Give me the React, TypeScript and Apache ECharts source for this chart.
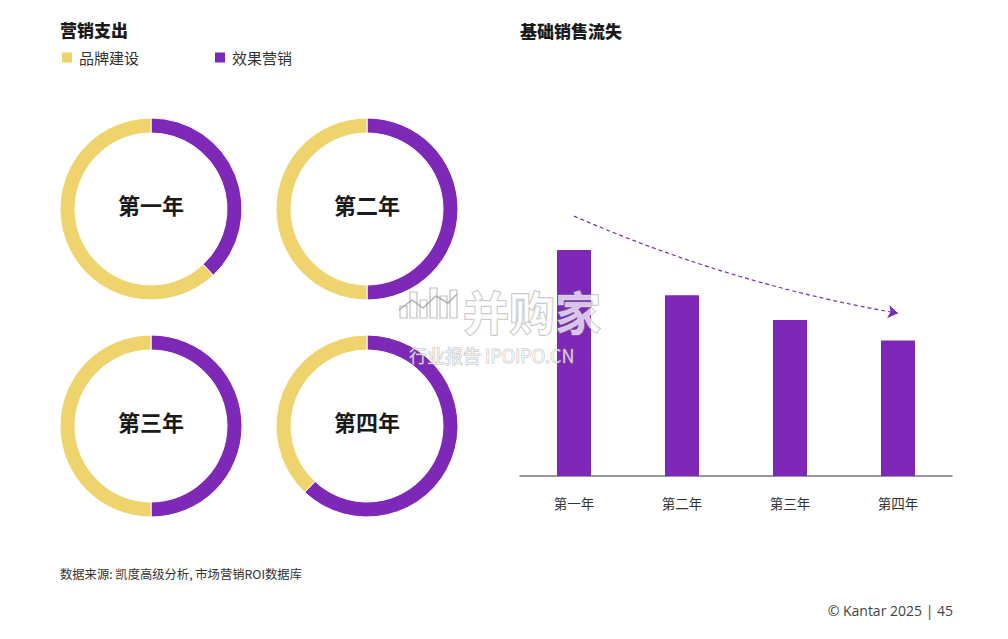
import React, { useEffect, useRef } from "react";
import * as echarts from "echarts";

const legendNames = ["品牌建设", "效果营销"];
const yearLabels = ["第一年", "第二年", "第三年", "第四年"];
const brandShare = [62, 50, 50, 38];
const performanceShare = [38, 50, 50, 62];
const baseSalesLoss = [100, 80, 69, 60];
const trendLine = [115, 72];

const YELLOW = "#EFD36C";
const PURPLE = "#7D28B6";
const CJK = '"Noto Sans CJK SC", "Noto Sans", sans-serif';
const donutCenters = [
  [151, 209],
  [367, 209],
  [151, 426],
  [367, 426],
];

export default function App() {
  const ref = useRef<HTMLDivElement>(null);
  useEffect(() => {
    if (!ref.current) return;
    const chart = echarts.init(ref.current, undefined, { renderer: "svg" });

    const pies = yearLabels.map((y, i) => ({
      type: "pie",
      name: y,
      center: donutCenters[i],
      radius: [76, 91],
      startAngle: 90,
      clockwise: true,
      silent: true,
      label: { show: false },
      labelLine: { show: false },
      itemStyle: { borderColor: "#fff", borderWidth: 1 },
      data: [
        { name: legendNames[1], value: performanceShare[i], itemStyle: { color: PURPLE } },
        { name: legendNames[0], value: brandShare[i], itemStyle: { color: YELLOW } },
      ],
    }));

    const centerTexts = yearLabels.map((y, i) => ({
      type: "text",
      x: donutCenters[i][0],
      y: donutCenters[i][1] - 5,
      style: {
        text: y,
        fill: "#1a1a1a",
        font: `bold 22px ${CJK}`,
        align: "center",
        verticalAlign: "middle",
      },
    }));

    const wmFill = "rgba(255,255,255,0.72)";
    const wmStroke = "rgba(140,140,140,0.55)";
    const iconBars = [
      [400, 12],
      [410, 26],
      [420, 18],
      [430, 30],
      [440, 22],
      [450, 28],
    ];

    chart.setOption({
      animation: false,
      backgroundColor: "#ffffff",
      legend: {
        data: legendNames,
        left: 60,
        top: 50,
        padding: 0,
        icon: "rect",
        itemWidth: 12,
        itemHeight: 12,
        itemGap: 74,
        selectedMode: false,
        textStyle: {
          fontFamily: CJK,
          fontSize: 15,
          color: "#333",
          padding: [0, 0, 0, 1],
        },
      },
      grid: { left: 520, top: 204.8, width: 432, height: 271.2 },
      xAxis: {
        type: "category",
        data: yearLabels,
        axisLine: { lineStyle: { color: "#777", width: 1.5 } },
        axisTick: { show: false },
        axisLabel: { color: "#333", fontSize: 13.5, fontFamily: CJK, margin: 20 },
      },
      yAxis: { type: "value", min: 0, max: 120, show: false },
      series: [
        ...pies,
        {
          type: "bar",
          data: baseSalesLoss,
          barWidth: 34,
          silent: true,
          itemStyle: { color: PURPLE },
        },
        {
          type: "lines",
          coordinateSystem: "cartesian2d",
          xAxisIndex: 0,
          yAxisIndex: 0,
          silent: true,
          symbol: ["none", "arrow"],
          symbolSize: 10,
          lineStyle: { color: PURPLE, width: 1.2, type: [4, 3], curveness: -0.06, opacity: 1 },
          data: [{ coords: [[0, trendLine[0]], [3, trendLine[1]]] }],
        },
      ],
      graphic: [
        {
          type: "text",
          x: 60,
          y: 29,
          style: { text: "营销支出", fill: "#1a1a1a", font: `900 17px ${CJK}`, verticalAlign: "middle" },
        },
        {
          type: "text",
          x: 520,
          y: 30,
          style: { text: "基础销售流失", fill: "#1a1a1a", font: `900 17px ${CJK}`, verticalAlign: "middle" },
        },
        ...centerTexts,
        {
          type: "text",
          x: 60,
          y: 574,
          style: {
            text: "数据来源: 凯度高级分析, 市场营销ROI数据库",
            fill: "#333",
            font: `12.3px ${CJK}`,
            verticalAlign: "middle",
          },
        },
        {
          type: "text",
          x: 953,
          y: 610,
          style: {
            text: "© Kantar 2025 | 45",
            fill: "#444",
            font: '14px "Open Sans", sans-serif',
            align: "right",
            verticalAlign: "middle",
          },
        },
        ...iconBars.map(([x, h]) => ({
          type: "rect",
          z: 100,
          silent: true,
          shape: { x, y: 318 - h, width: 7, height: h },
          style: { fill: wmFill, stroke: wmStroke, lineWidth: 1.2 },
        })),
        {
          type: "polyline",
          z: 101,
          silent: true,
          shape: { points: [[399, 310], [412, 300], [423, 308], [436, 296], [448, 303], [457, 294]] },
          style: { stroke: "rgba(150,150,150,0.7)", lineWidth: 1.5, fill: null },
        },
        {
          type: "text",
          z: 100,
          silent: true,
          x: 463,
          y: 310,
          style: {
            text: "并购家",
            fill: wmFill,
            stroke: wmStroke,
            lineWidth: 1.5,
            font: `bold 46px ${CJK}`,
            lineHeight: 44,
            verticalAlign: "middle",
          },
        },
        {
          type: "text",
          z: 100,
          silent: true,
          x: 409,
          y: 355,
          style: {
            text: "行业报告 IPOIPO.CN",
            fill: wmFill,
            stroke: wmStroke,
            lineWidth: 1,
            font: `18px ${CJK}`,
            lineHeight: 18,
            verticalAlign: "middle",
          },
        },
      ],
    });
    return () => chart.dispose();
  }, []);
  return (
    <div
      ref={ref}
      style={{ position: "fixed", left: 0, top: 0, width: 1008, height: 639, background: "#fff" }}
    />
  );
}
